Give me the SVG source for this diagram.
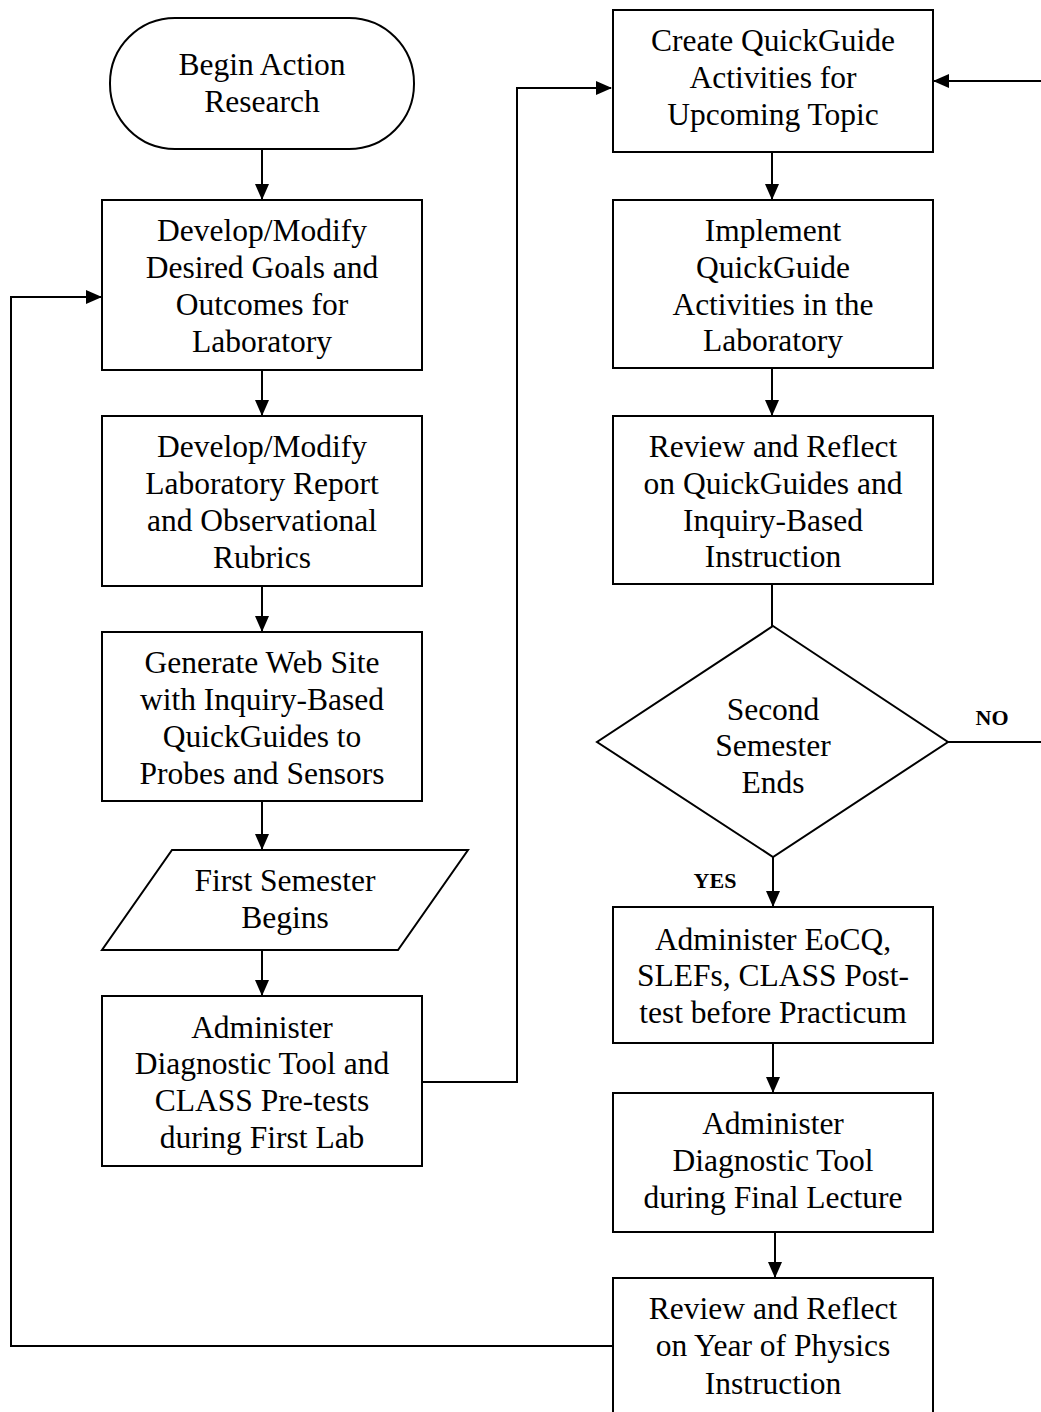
<svg xmlns="http://www.w3.org/2000/svg" width="1041" height="1412" viewBox="0 0 1041 1412">
<defs>
<marker id="ah" markerWidth="16" markerHeight="14" refX="15" refY="7" orient="auto" markerUnits="userSpaceOnUse">
<path d="M0,0 L16,7 L0,14 Z" fill="#000"/>
</marker>
<style>
.n{fill:#fff;stroke:#000;stroke-width:2}
.t{font-family:"Liberation Serif","Times New Roman",serif;font-size:31.5px;text-anchor:middle;fill:#000}
.b{font-family:"Liberation Serif","Times New Roman",serif;font-size:22px;font-weight:bold;text-anchor:middle;fill:#000}
.c{fill:none;stroke:#000;stroke-width:2}
</style>
</defs>
<rect width="1041" height="1412" fill="#fff"/>
<g id="connectors">
<line class="c" x1="262" y1="149" x2="262" y2="199" marker-end="url(#ah)"/>
<line class="c" x1="262" y1="370" x2="262" y2="415" marker-end="url(#ah)"/>
<line class="c" x1="262" y1="586" x2="262" y2="631" marker-end="url(#ah)"/>
<line class="c" x1="262" y1="801" x2="262" y2="849" marker-end="url(#ah)"/>
<line class="c" x1="262" y1="950" x2="262" y2="995" marker-end="url(#ah)"/>
<polyline class="c" points="422,1082 517,1082 517,88 611,88" marker-end="url(#ah)"/>
<line class="c" x1="1041" y1="81" x2="934" y2="81" marker-end="url(#ah)"/>
<line class="c" x1="772" y1="152" x2="772" y2="199" marker-end="url(#ah)"/>
<line class="c" x1="772" y1="368" x2="772" y2="415" marker-end="url(#ah)"/>
<line class="c" x1="772" y1="584" x2="772" y2="626"/>
<line class="c" x1="948" y1="742" x2="1041" y2="742"/>
<line class="c" x1="773" y1="857" x2="773" y2="906" marker-end="url(#ah)"/>
<line class="c" x1="773" y1="1043" x2="773" y2="1092" marker-end="url(#ah)"/>
<line class="c" x1="775" y1="1232" x2="775" y2="1277" marker-end="url(#ah)"/>
<polyline class="c" points="613,1346 11,1346 11,297 101,297" marker-end="url(#ah)"/>
<text class="b" x="992" y="725">NO</text>
<text class="b" x="715" y="888">YES</text>
</g>
<g id="start">
<rect class="n" x="110" y="18" width="304" height="131" rx="65" ry="65"/>
<text class="t" x="262" y="75">Begin Action</text>
<text class="t" x="262" y="112">Research</text>
</g>
<g id="goals">
<rect class="n" x="102" y="200" width="320" height="170"/>
<text class="t" x="262" y="241">Develop/Modify</text>
<text class="t" x="262" y="278">Desired Goals and</text>
<text class="t" x="262" y="315">Outcomes for</text>
<text class="t" x="262" y="352">Laboratory</text>
</g>
<g id="rubrics">
<rect class="n" x="102" y="416" width="320" height="170"/>
<text class="t" x="262" y="457">Develop/Modify</text>
<text class="t" x="262" y="494">Laboratory Report</text>
<text class="t" x="262" y="531">and Observational</text>
<text class="t" x="262" y="568">Rubrics</text>
</g>
<g id="website">
<rect class="n" x="102" y="632" width="320" height="169"/>
<text class="t" x="262" y="673">Generate Web Site</text>
<text class="t" x="262" y="710">with Inquiry-Based</text>
<text class="t" x="262" y="747">QuickGuides to</text>
<text class="t" x="262" y="784">Probes and Sensors</text>
</g>
<g id="firstsem">
<polygon class="n" points="172,850 468,850 398,950 102,950"/>
<text class="t" x="285" y="891">First Semester</text>
<text class="t" x="285" y="928">Begins</text>
</g>
<g id="pretests">
<rect class="n" x="102" y="996" width="320" height="170"/>
<text class="t" x="262" y="1038">Administer</text>
<text class="t" x="262" y="1074">Diagnostic Tool and</text>
<text class="t" x="262" y="1111">CLASS Pre-tests</text>
<text class="t" x="262" y="1148">during First Lab</text>
</g>
<g id="create">
<rect class="n" x="613" y="10" width="320" height="142"/>
<text class="t" x="773" y="51">Create QuickGuide</text>
<text class="t" x="773" y="88">Activities for</text>
<text class="t" x="773" y="125">Upcoming Topic</text>
</g>
<g id="implement">
<rect class="n" x="613" y="200" width="320" height="168"/>
<text class="t" x="773" y="241">Implement</text>
<text class="t" x="773" y="278">QuickGuide</text>
<text class="t" x="773" y="315">Activities in the</text>
<text class="t" x="773" y="351">Laboratory</text>
</g>
<g id="review1">
<rect class="n" x="613" y="416" width="320" height="168"/>
<text class="t" x="773" y="457">Review and Reflect</text>
<text class="t" x="773" y="494">on QuickGuides and</text>
<text class="t" x="773" y="531">Inquiry-Based</text>
<text class="t" x="773" y="567">Instruction</text>
</g>
<g id="decision">
<polygon class="n" points="773,626 948,742 773,857 597,742"/>
<text class="t" x="773" y="720">Second</text>
<text class="t" x="773" y="756">Semester</text>
<text class="t" x="773" y="793">Ends</text>
</g>
<g id="posttest">
<rect class="n" x="613" y="907" width="320" height="136"/>
<text class="t" x="773" y="950">Administer EoCQ,</text>
<text class="t" x="773" y="986">SLEFs, CLASS Post-</text>
<text class="t" x="773" y="1023">test before Practicum</text>
</g>
<g id="diagfinal">
<rect class="n" x="613" y="1093" width="320" height="139"/>
<text class="t" x="773" y="1134">Administer</text>
<text class="t" x="773" y="1171">Diagnostic Tool</text>
<text class="t" x="773" y="1208">during Final Lecture</text>
</g>
<g id="review2">
<rect class="n" x="613" y="1278" width="320" height="150"/>
<text class="t" x="773" y="1319">Review and Reflect</text>
<text class="t" x="773" y="1356">on Year of Physics</text>
<text class="t" x="773" y="1394">Instruction</text>
</g>
</svg>
